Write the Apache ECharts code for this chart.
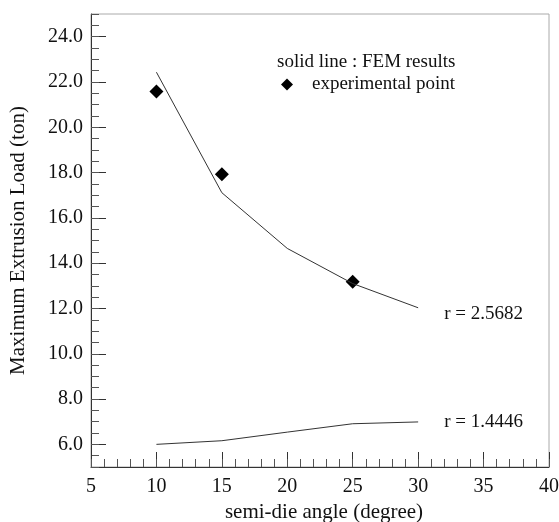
<!DOCTYPE html>
<html>
<head>
<meta charset="utf-8">
<script src="https://cdn.jsdelivr.net/npm/echarts@6/dist/echarts.min.js"></script>
<style>html,body{margin:0;padding:0;background:#fff;}#c{width:559px;height:522px;}</style>
</head>
<body>
<div id="c"></div>
<script>
var angles = [10, 15, 20, 25, 30];
var femHigh = [22.43, 17.11, 14.65, 13.1, 12.03];
var femLow = [6.0, 6.16, 6.54, 6.91, 6.99];
var expAngles = [10, 15, 25];
var expLoad = [21.58, 17.92, 13.18];
var yLabelValues = [6, 8, 10, 12, 14, 16, 18, 20, 22, 24];
var xLabelValues = [5, 10, 15, 20, 25, 30, 35, 40];
var highLabel = 'r = 2.5682';
var lowLabel = 'r = 1.4446';

var FONT = 'Liberation Serif';
var chart = echarts.init(document.getElementById('c'), null, {renderer: 'canvas'});
function pairs(xs, ys) { return xs.map(function (x, i) { return [x, ys[i]]; }); }

var option = {
  backgroundColor: '#fff',
  animation: false,
  textStyle: {fontFamily: FONT, color: '#111'},
  grid: {left: 91, top: 14, right: 10, bottom: 55, containLabel: false, outerBoundsMode: 'none',
    show: true, borderColor: '#aaa', borderWidth: 1, backgroundColor: 'transparent'},
  legend: {
    data: [{name: 'experimental point', icon: 'diamond'}],
    left: 276, top: 70, itemWidth: 12, itemHeight: 12,
    textStyle: {fontFamily: FONT, fontSize: 19, color: '#111', padding: [0, 0, 0, 14]}
  },
  graphic: [{
    type: 'text', left: 277, top: 53,
    style: {text: 'solid line : FEM results', font: '19px "Liberation Serif"', fill: '#111'}
  }],
  xAxis: [{
    type: 'value', position: 'bottom', min: 5, max: 40, interval: 5,
    name: 'semi-die angle (degree)', nameLocation: 'middle', nameGap: 28,
    nameTextStyle: {fontFamily: FONT, fontSize: 21, color: '#111', padding: [0, 0, 0, 8]},
    axisLine: {show: true, lineStyle: {color: '#333', width: 1}},
    axisTick: {show: true, inside: true, length: 15, lineStyle: {color: '#333'}},
    axisLabel: {fontFamily: FONT, fontSize: 20, color: '#111', margin: 10, customValues: xLabelValues},
    splitLine: {show: false}
  }, {
    type: 'value', position: 'bottom', min: 5, max: 40, interval: 1,
    axisLine: {show: false},
    axisTick: {show: true, inside: true, length: 8, lineStyle: {color: '#555'}},
    axisLabel: {show: false},
    splitLine: {show: false}
  }],
  yAxis: [{
    type: 'value', position: 'left', min: 5, max: 25,
    name: 'Maximum Extrusion Load (ton)', nameLocation: 'middle', nameGap: 62, nameRotate: 90,
    nameTextStyle: {fontFamily: FONT, fontSize: 21, color: '#111'},
    axisLine: {show: true, lineStyle: {color: '#333', width: 1}},
    axisTick: {show: true, inside: true, length: 15, customValues: yLabelValues, lineStyle: {color: '#333'}},
    axisLabel: {fontFamily: FONT, fontSize: 20, color: '#111', margin: 8, customValues: yLabelValues,
      formatter: function (v) { return v.toFixed(1); }},
    splitLine: {show: false}
  }, {
    type: 'value', position: 'left', min: 5, max: 25, interval: 0.5,
    axisLine: {show: false},
    axisTick: {show: true, inside: true, length: 8, lineStyle: {color: '#555'}},
    axisLabel: {show: false},
    splitLine: {show: false}
  }],
  series: [{
    name: 'FEM high', type: 'line', xAxisIndex: 0, yAxisIndex: 0,
    data: pairs(angles, femHigh), showSymbol: false, symbol: 'none',
    lineStyle: {color: '#333', width: 1},
    endLabel: {show: true, formatter: highLabel, fontFamily: FONT, fontSize: 19, color: '#111', distance: 26, offset: [0, 6]}
  }, {
    name: 'FEM low', type: 'line', xAxisIndex: 0, yAxisIndex: 0,
    data: pairs(angles, femLow), showSymbol: false, symbol: 'none',
    lineStyle: {color: '#333', width: 1},
    endLabel: {show: true, formatter: lowLabel, fontFamily: FONT, fontSize: 19, color: '#111', distance: 26, offset: [0, 0]}
  }, {
    name: 'experimental point', type: 'scatter', xAxisIndex: 0, yAxisIndex: 0,
    data: pairs(expAngles, expLoad), symbol: 'diamond', symbolSize: 14,
    itemStyle: {color: '#000', opacity: 1}
  }]
};
chart.setOption(option);
</script>
</body>
</html>
